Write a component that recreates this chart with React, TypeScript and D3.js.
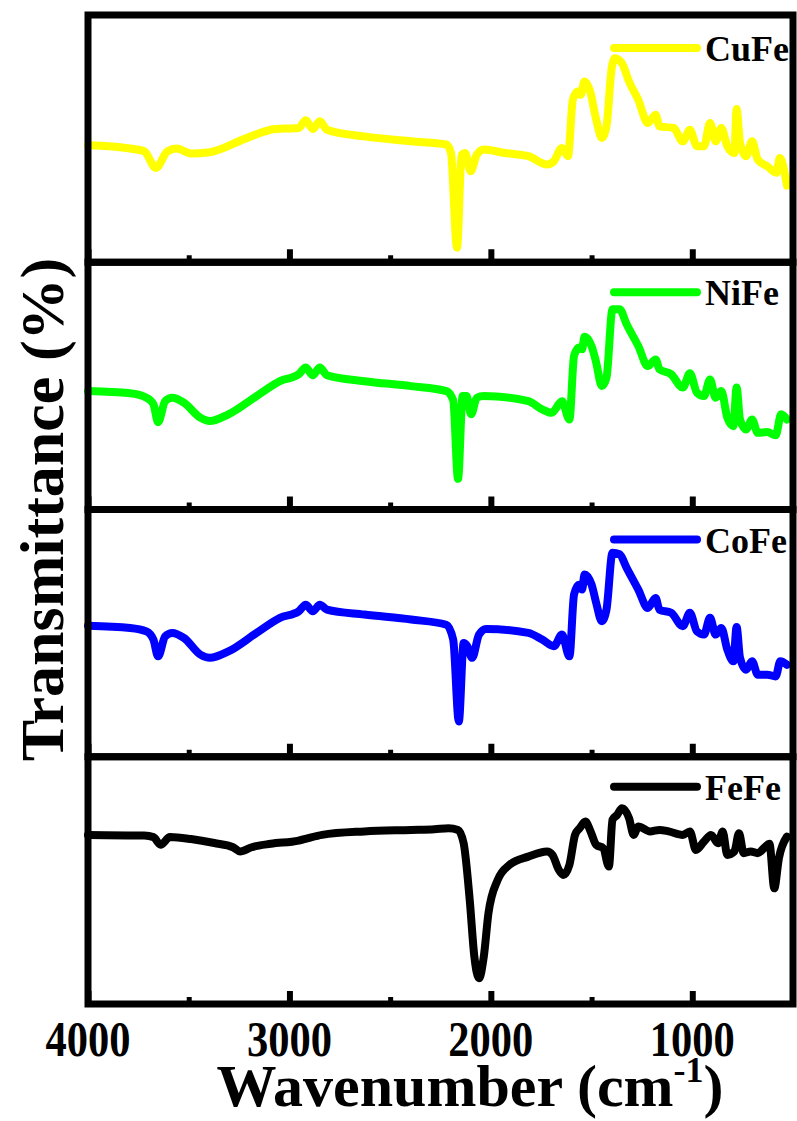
import React, { useEffect, useRef } from "react"
import * as d3 from "d3"

// FTIR spectra, [wavenumber (cm-1), transmittance (a.u., 0-100 within each panel)]
const cuFe = [
  [4000, 47.3], [3791, 46.0], [3721, 44.9], [3663, 38.2], [3605, 44.9], [3559, 46.0],
  [3489, 44.0], [3396, 44.5], [3210, 50.3], [3070, 53.9], [2954, 54.3], [2919, 57.4],
  [2884, 53.9], [2849, 57.0], [2814, 53.6], [2628, 50.9], [2396, 48.9], [2221, 47.6],
  [2198, 44.2], [2168, 5.9], [2145, 43.5], [2128, 44.2], [2100, 36.8], [2070, 43.5],
  [2035, 45.6], [1931, 44.2], [1814, 42.9], [1721, 39.5], [1687, 40.9], [1647, 46.2],
  [1617, 42.9], [1593, 65.7], [1570, 69.1], [1554, 67.7], [1535, 73.1], [1507, 69.1],
  [1477, 57.7], [1449, 50.3], [1426, 55.0], [1400, 78.5], [1384, 82.5], [1349, 80.5],
  [1314, 73.1], [1268, 65.7], [1221, 56.3], [1182, 59.7], [1163, 55.0], [1093, 54.3],
  [1047, 48.9], [1012, 53.6], [977, 46.9], [942, 46.9], [912, 56.3], [884, 48.9],
  [856, 54.3], [826, 46.9], [791, 44.2], [780, 62.0], [763, 48.3], [733, 42.9],
  [703, 48.9], [675, 41.5], [628, 38.8], [582, 36.2], [566, 42.2], [530, 31.0],
]

const niFe = [
  [4000, 47.9], [3791, 47.0], [3710, 45.2], [3675, 42.5], [3652, 35.3], [3617, 43.8],
  [3582, 45.2], [3524, 43.2], [3442, 37.1], [3396, 35.8], [3303, 38.5], [3163, 45.9],
  [3047, 51.9], [2954, 54.7], [2919, 57.4], [2884, 54.3], [2849, 57.4], [2814, 54.3],
  [2628, 51.9], [2396, 49.9], [2221, 47.9], [2187, 44.2], [2163, 12.4], [2140, 45.9],
  [2121, 45.9], [2098, 38.5], [2070, 45.2], [2035, 45.9], [1814, 43.8], [1745, 40.5],
  [1698, 39.1], [1647, 43.8], [1610, 36.4], [1587, 62.1], [1563, 65.5], [1547, 64.8],
  [1535, 69.9], [1500, 66.1], [1477, 59.4], [1449, 49.9], [1426, 53.3], [1396, 81.0],
  [1361, 81.0], [1326, 74.9], [1268, 66.1], [1221, 58.0], [1182, 60.7], [1163, 56.7],
  [1105, 54.7], [1047, 49.3], [1012, 55.1], [977, 47.3], [942, 45.9], [912, 52.6],
  [884, 45.2], [856, 47.9], [826, 37.1], [796, 33.7], [780, 49.3], [763, 36.4],
  [733, 32.4], [703, 36.4], [675, 31.0], [628, 31.3], [586, 30.0], [559, 38.5], [530, 36.4],
]

const coFe = [
  [4000, 53.0], [3791, 52.1], [3710, 50.7], [3675, 47.3], [3652, 40.6], [3617, 48.7],
  [3582, 50.1], [3524, 48.1], [3442, 41.3], [3396, 40.0], [3303, 42.6], [3163, 50.1],
  [3047, 56.2], [2954, 58.8], [2919, 61.5], [2884, 58.8], [2849, 61.5], [2814, 59.5],
  [2628, 57.5], [2396, 55.5], [2221, 53.4], [2187, 47.4], [2159, 14.3], [2135, 46.0],
  [2117, 44.7], [2093, 40.0], [2059, 49.4], [2024, 51.7], [1814, 50.1], [1745, 47.4],
  [1687, 44.7], [1647, 49.4], [1610, 40.6], [1587, 65.6], [1563, 69.6], [1547, 67.6],
  [1535, 73.7], [1500, 69.6], [1477, 62.2], [1449, 54.8], [1426, 59.5], [1396, 82.5],
  [1361, 81.9], [1326, 76.4], [1268, 67.6], [1221, 60.2], [1182, 64.2], [1163, 59.5],
  [1105, 58.2], [1047, 52.8], [1012, 58.2], [977, 50.7], [942, 49.4], [912, 56.2],
  [884, 49.4], [856, 52.1], [826, 43.3], [796, 38.6], [780, 52.5], [763, 40.0],
  [733, 35.2], [703, 38.6], [675, 33.2], [628, 33.2], [586, 32.5], [563, 38.6], [530, 37.2],
]

const feFe = [
  [4000, 68.4], [3721, 68.1], [3675, 67.5], [3640, 64.4], [3593, 67.5], [3489, 66.7],
  [3373, 65.1], [3280, 63.4], [3245, 61.7], [3187, 63.4], [3093, 64.8], [2954, 66.1],
  [2907, 67.1], [2838, 68.4], [2628, 69.8], [2396, 70.4], [2280, 70.7], [2210, 71.1],
  [2163, 70.4], [2135, 65.0], [2105, 42.1], [2082, 19.2], [2059, 10.4], [2035, 19.2],
  [2012, 36.7], [1966, 50.2], [1907, 56.3], [1814, 59.6], [1721, 61.7], [1694, 60.3],
  [1663, 54.3], [1640, 52.2], [1610, 56.3], [1582, 68.4], [1559, 71.1], [1531, 73.8],
  [1505, 69.8], [1477, 64.4], [1442, 63.0], [1414, 55.6], [1396, 74.5], [1373, 76.5],
  [1349, 79.2], [1314, 75.2], [1291, 68.4], [1268, 71.8], [1210, 69.8], [1163, 70.4],
  [1117, 69.8], [1047, 68.4], [1012, 69.8], [982, 62.3], [942, 65.7], [907, 68.4],
  [872, 65.0], [849, 69.8], [826, 60.3], [791, 61.7], [768, 69.1], [745, 61.0],
  [710, 61.7], [675, 61.0], [640, 63.4], [617, 64.8], [593, 46.8], [570, 59.0], [530, 67.7],
]

const seriesNames = ["CuFe", "NiFe", "CoFe", "FeFe"]
const seriesColors = ["#ffff00", "#00ff00", "#0000ff", "#000000"]
const seriesData = [cuFe, niFe, coFe, feFe]

const majorTicks = [4000, 3000, 2000, 1000]
const minorTicks = [3500, 2500, 1500]

const WIDTH = 797
const HEIGHT = 1121
const FONT = "'Liberation Serif', 'Times New Roman', serif"

function App() {
  const svgRef = useRef(null)

  useEffect(() => {
    const svg = d3.select(svgRef.current)
    svg.selectAll("*").remove()

    const left = 88
    const right = 793
    const top = 15
    const bottom = 1004
    const panelH = (bottom - top) / seriesData.length

    const x = d3.scaleLinear().domain([4000, 500]).range([left, right])

    seriesData.forEach((data, i) => {
      const pTop = top + i * panelH
      const pBottom = pTop + panelH
      const y = d3.scaleLinear().domain([0, 100]).range([pBottom, pTop])
      const g = svg.append("g")

      const line = d3.line()
        .x(d => x(d[0]))
        .y(d => y(d[1]))
        .curve(d3.curveMonotoneX)

      g.append("path")
        .datum(data)
        .attr("d", line)
        .attr("fill", "none")
        .attr("stroke", seriesColors[i])
        .attr("stroke-width", 8)
        .attr("stroke-linejoin", "round")
        .attr("stroke-linecap", "round")

      // legend (first panel sits a little lower)
      const ly = i === 0 ? pTop + 33 : pTop + 30
      g.append("line")
        .attr("x1", 614).attr("x2", 697)
        .attr("y1", ly).attr("y2", ly)
        .attr("stroke", seriesColors[i])
        .attr("stroke-width", 8)
        .attr("stroke-linecap", "round")
      g.append("text")
        .attr("x", 705)
        .attr("y", ly + 13)
        .attr("font-family", FONT)
        .attr("font-weight", "bold")
        .attr("font-size", 36)
        .attr("fill", "#000")
        .text(seriesNames[i])

      // inward ticks at the bottom of each panel
      const major = d3.axisBottom(x).tickValues(majorTicks).tickSize(-13).tickFormat(() => "")
      const minor = d3.axisBottom(x).tickValues(minorTicks).tickSize(-7).tickFormat(() => "")
      g.append("g").attr("transform", `translate(0,${pBottom})`).call(major)
        .call(a => a.select(".domain").remove())
        .call(a => a.selectAll("line").attr("stroke", "#000").attr("stroke-width", 6))
      g.append("g").attr("transform", `translate(0,${pBottom})`).call(minor)
        .call(a => a.select(".domain").remove())
        .call(a => a.selectAll("line").attr("stroke", "#000").attr("stroke-width", 5))

      // frame
      g.append("rect")
        .attr("x", left).attr("y", pTop)
        .attr("width", right - left).attr("height", panelH)
        .attr("fill", "none")
        .attr("stroke", "#000")
        .attr("stroke-width", 7)
    })

    // x tick labels
    svg.append("g").selectAll("text")
      .data(majorTicks)
      .enter().append("text")
      .attr("transform", d => `translate(${x(d)},1056) scale(0.85,1)`)
      .attr("text-anchor", "middle")
      .attr("font-family", FONT)
      .attr("font-weight", "bold")
      .attr("font-size", 50)
      .text(d => d)

    // x title
    const xt = svg.append("text")
      .attr("x", 470)
      .attr("y", 1106)
      .attr("text-anchor", "middle")
      .attr("font-family", FONT)
      .attr("font-weight", "bold")
      .attr("font-size", 60)
    xt.append("tspan").text("Wavenumber (cm")
    xt.append("tspan").attr("dy", -24).attr("font-size", 36).text("-1")
    xt.append("tspan").attr("dy", 24).text(")")

    // y title
    svg.append("text")
      .attr("transform", `translate(63,${(top + bottom) / 2}) rotate(-90)`)
      .attr("text-anchor", "middle")
      .attr("font-family", FONT)
      .attr("font-weight", "bold")
      .attr("font-size", 62)
      .text("Transmittance (%)")
  }, [])

  return (
    <svg
      ref={svgRef}
      width={WIDTH}
      height={HEIGHT}
      style={{ position: "absolute", left: 0, top: 0, background: "#fff" }}
    ></svg>
  )
}

export default App
